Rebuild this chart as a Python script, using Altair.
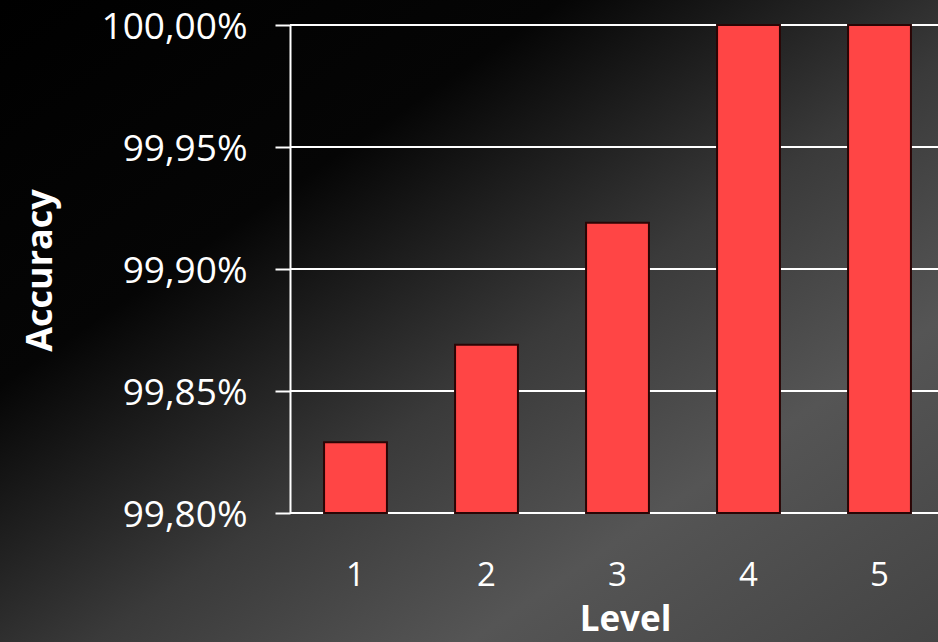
import altair as alt
import pandas as pd

# Accuracy per level (percent)
levels = ["1", "2", "3", "4", "5"]
accuracy = [99.829, 99.869, 99.919, 100.00, 100.00]
y_ticks = [99.80, 99.85, 99.90, 99.95, 100.00]

bars_df = pd.DataFrame({"Level": levels, "Accuracy": accuracy})
grid_df = pd.DataFrame({"Accuracy": y_ticks})

W, H = 648, 488

x_scale = alt.Scale(domain=levels, range=[0, 655], paddingInner=0.52, paddingOuter=0.26)
y_scale = alt.Scale(domain=[99.80, 100.00], zero=False, nice=False)

y_axis = alt.Axis(
    title="Accuracy", values=y_ticks, grid=False,
    labelExpr="replace(format(datum.value, '.2f'), '.', ',') + '%'",
    labelFont="Open Sans", labelFontSize=37, labelColor="white",
    labelPadding=28, labelBaseline="middle", labelOffset=2,
    domainColor="white", domainWidth=2,
    tickColor="white", tickWidth=2, tickSize=15,
    titleFont="Open Sans", titleFontSize=36, titleFontWeight="bold",
    titleColor="white", titleAngle=270, titleX=-250, titleY=245,
    titleBaseline="middle", titleAlign="center", zindex=1,
)

# full-figure backdrop: dark top-left fading to grey lower-right
backdrop = alt.Chart(pd.DataFrame({"a": [0]})).mark_rect(
    color=alt.LinearGradient(
        gradient="linear",
        x1=0, y1=0, x2=1, y2=1,
        stops=[
            alt.GradientStop(color="#000000", offset=0.0),
            alt.GradientStop(color="#050505", offset=0.3),
            alt.GradientStop(color="#3a3a3a", offset=0.55),
            alt.GradientStop(color="#555555", offset=0.75),
            alt.GradientStop(color="#444444", offset=1.0),
        ],
    )
).encode(
    x=alt.value(-290), x2=alt.value(W),
    y=alt.value(-25), y2=alt.value(H + 129),
)

grid = alt.Chart(grid_df).mark_rule(color="white", strokeWidth=2).encode(
    y=alt.Y("Accuracy:Q", scale=y_scale, axis=y_axis),
    x=alt.value(0), x2=alt.value(W),
)

bars = alt.Chart(bars_df).mark_bar(
    color="#ff4545", stroke="#2a0505", strokeWidth=2
).encode(
    x=alt.X(
        "Level:N", scale=x_scale, sort=levels,
        axis=alt.Axis(
            title="Level", labelAngle=0, ticks=False, domain=False, grid=False,
            labelPadding=62, labelBaseline="middle", labelFontSize=33,
            labelFont="Open Sans", labelColor="white",
            titleFont="Open Sans", titleFontSize=35, titleFontWeight="bold",
            titleColor="white", titleX=335, titleY=106, titleBaseline="middle",
            titleAlign="center", zindex=1,
        ),
    ),
    y=alt.Y("Accuracy:Q", scale=y_scale, axis=y_axis),
    y2=alt.datum(99.80),
)

chart = alt.layer(backdrop, grid, bars).properties(
    width=W, height=H,
    autosize=alt.AutoSizeParams(type="none"),
    padding={"left": 290, "top": 25, "right": 0, "bottom": 129},
    background="#000000",
).configure_view(stroke=None)

chart.save("out.html", embed_options={"renderer": "svg", "actions": False})
